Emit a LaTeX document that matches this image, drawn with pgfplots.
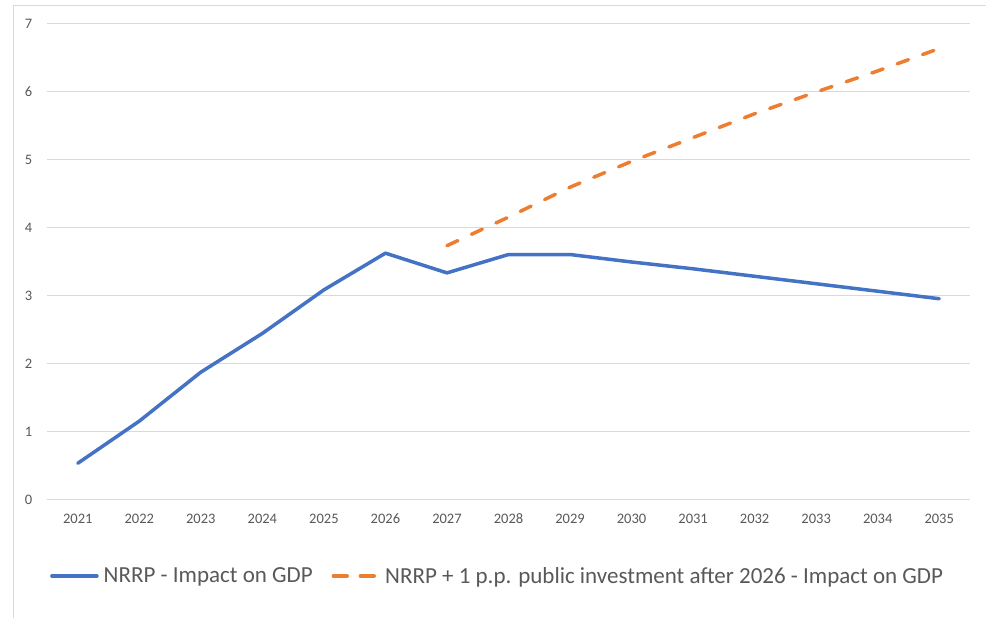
\documentclass[border=0pt]{standalone}
\usepackage{pgfplots}
\pgfplotsset{compat=1.18}
\usepackage{fontspec}
\setmainfont{Carlito}
\definecolor{nblue}{HTML}{4472C4}
\definecolor{norange}{HTML}{ED7D31}
\definecolor{gridgray}{HTML}{D9D9D9}
\definecolor{txtgray}{HTML}{595959}
\begin{document}
\begin{tikzpicture}
\useasboundingbox[fill=white] (0,0) rectangle (986bp,618bp);
\draw[gridgray, line width=1bp] (13.5bp,0) -- (13.5bp,612.5bp) -- (986bp,612.5bp);
\begin{axis}[
  at={(47bp,118bp)}, anchor=south west,
  width=923bp, height=476bp, scale only axis,
  xmin=-0.5, xmax=14.5, ymin=0, ymax=7,
  xtick={0,1,2,3,4,5,6,7,8,9,10,11,12,13,14},
  xticklabels={2021,2022,2023,2024,2025,2026,2027,2028,2029,2030,2031,2032,2033,2034,2035},
  ytick={0,1,2,3,4,5,6,7},
  axis line style={draw=none},
  tick style={draw=none},
  major tick length=0pt,
  ymajorgrids, grid style={gridgray, line width=1bp},
  /pgf/number format/assume math mode=true,
  tick label style={font=\fontsize{14.5bp}{17bp}\selectfont, text=txtgray, inner sep=0pt},
  yticklabel style={anchor=east, xshift=-14.5bp},
  xticklabel style={anchor=north, yshift=-13.5bp},
  clip=false,
  legend columns=2,
  legend style={at={(0.00325,-0.1597)}, anchor=west, draw=none, fill=none, inner sep=0pt,
    font=\fontsize{23bp}{27bp}\selectfont, text=txtgray,
    nodes={inner sep=0pt},
    /tikz/every odd column/.append style={column sep=5bp},
    /tikz/every even column/.append style={column sep=19bp}},
  legend image code/.code={\path (0bp,0bp) -- (45bp,0bp); \draw[#1] (1.75bp,0bp) -- (43.25bp,0bp);},
]
\addplot[nblue, line width=3.5bp, line join=round, line cap=round] coordinates {
(0,0.54) (1,1.16) (2,1.88) (3,2.45) (4,3.09) (5,3.63) (6,3.34) (7,3.61) (8,3.61)
(9,3.50) (10,3.40) (11,3.29) (12,3.18) (13,3.07) (14,2.96)};
\addlegendentry{NRRP - Impact on GDP}
\addplot[norange, line width=3.5bp, line cap=round, dash pattern=on 12bp off 15bp] coordinates {
(6,3.74) (7,4.16) (8,4.60) (9,4.98) (10,5.33) (11,5.68) (12,6.00) (13,6.31) (14,6.64)};
\addlegendentry{NRRP + 1 p.p. public investment after 2026 - Impact on GDP}
\end{axis}
\end{tikzpicture}
\end{document}
